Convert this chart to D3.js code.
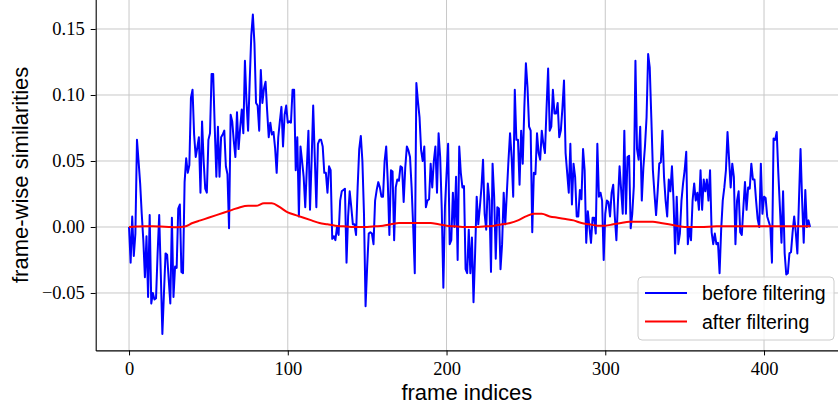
<!DOCTYPE html>
<html>
<head>
<meta charset="utf-8">
<script src="https://cdn.jsdelivr.net/npm/d3@7"></script>
<style>
  body { margin: 0; background: #fff; }
  .tick text { font-family: "Liberation Serif", serif; }
</style>
</head>
<body>
<svg id="chart"></svg>
<script>
// frame-wise similarities before / after filtering

// DATA
let blueValues = [
  0.000, -0.027, 0.008, -0.022, -0.005, 0.066, 0.050, 0.033, 0.010, -0.010,
  -0.038, -0.007, -0.053, 0.009, -0.058, -0.050, -0.055, -0.054, -0.020, 0.009,
  -0.035, -0.081, -0.050, -0.020, -0.021, -0.040, -0.058, 0.007, -0.053, -0.030,
  -0.031, 0.014, 0.017, -0.034, -0.035, 0.034, 0.052, 0.041, 0.047, 0.098,
  0.104, 0.070, 0.053, 0.060, 0.068, 0.026, 0.080, 0.050, 0.029, 0.026,
  0.066, 0.071, 0.116, 0.116, 0.075, 0.038, 0.076, 0.038, 0.068, 0.070,
  0.073, 0.046, 0.040, -0.001, 0.085, 0.080, 0.065, 0.053, 0.087, 0.059,
  0.075, 0.089, 0.071, 0.126, 0.095, 0.073, 0.110, 0.145, 0.161, 0.139,
  0.094, 0.092, 0.073, 0.119, 0.094, 0.105, 0.110, 0.088, 0.068, 0.079,
  0.070, 0.072, 0.060, 0.041, 0.068, 0.080, 0.091, 0.061, 0.085, 0.092,
  0.079, 0.080, 0.079, 0.104, 0.104, 0.043, 0.068, 0.008, 0.061, 0.050,
  0.038, 0.015, 0.045, 0.073, 0.013, 0.050, 0.092, 0.053, 0.015, 0.063,
  0.066, 0.066, 0.061, 0.041, 0.041, 0.026, 0.046, 0.043, -0.009, -0.007,
  -0.010, 0.000, -0.006, 0.020, 0.027, 0.028, 0.029, -0.027, 0.008, 0.027,
  0.015, 0.002, 0.002, -0.006, 0.030, 0.059, 0.069, 0.050, 0.010, -0.060,
  -0.030, -0.005, -0.004, -0.005, -0.013, 0.020, 0.028, 0.034, 0.030, 0.023,
  0.023, 0.050, 0.061, 0.034, -0.006, 0.043, 0.042, -0.010, 0.030, 0.036,
  0.035, 0.046, 0.045, 0.019, 0.045, 0.061, 0.058, 0.053, 0.030, 0.000,
  -0.035, 0.109, 0.095, 0.083, 0.058, 0.050, 0.061, 0.015, 0.020, 0.021,
  0.048, 0.030, 0.050, 0.061, 0.026, 0.071, 0.053, 0.013, -0.046, 0.015,
  0.040, 0.063, -0.013, -0.010, 0.026, 0.000, 0.038, -0.025, 0.061, 0.041,
  0.030, 0.031, -0.032, -0.035, -0.002, -0.035, -0.008, -0.057, -0.020, 0.023,
  0.002, 0.015, 0.030, 0.051, 0.010, -0.002, 0.033, 0.020, -0.034, 0.048,
  0.023, -0.024, 0.015, 0.014, -0.032, -0.013, 0.026, 0.002, 0.026, 0.050,
  0.071, 0.053, 0.023, 0.104, 0.066, 0.066, 0.032, 0.073, 0.048, 0.090,
  0.124, 0.106, 0.076, 0.073, -0.004, 0.041, 0.040, 0.071, 0.056, 0.051,
  0.073, 0.063, 0.056, 0.090, 0.120, 0.073, 0.076, 0.104, 0.086, 0.086,
  0.094, 0.068, 0.073, 0.090, 0.111, 0.056, 0.041, 0.026, 0.063, 0.017,
  0.048, 0.038, 0.008, 0.008, 0.028, 0.021, 0.059, 0.043, -0.012, 0.012,
  0.000, -0.012, 0.007, 0.007, -0.005, 0.063, 0.023, 0.026, 0.020, -0.025,
  0.010, 0.020, 0.019, 0.008, 0.026, 0.032, 0.008, -0.010, 0.020, 0.046,
  0.028, 0.010, 0.073, 0.010, 0.053, 0.054, -0.001, 0.010, 0.031, 0.126,
  0.059, 0.051, 0.076, 0.020, 0.045, 0.061, 0.083, 0.131, 0.121, 0.083,
  0.043, 0.025, 0.009, 0.027, 0.048, 0.049, 0.073, 0.038, 0.020, 0.008,
  0.036, 0.027, 0.046, 0.020, -0.020, 0.023, -0.013, -0.005, 0.020, 0.033,
  0.043, 0.057, -0.013, 0.000, -0.010, 0.020, 0.033, 0.020, 0.026, 0.013,
  0.043, 0.013, 0.036, 0.027, 0.036, 0.020, 0.043, -0.004, -0.013, -0.005,
  -0.013, -0.012, -0.035, -0.002, 0.020, 0.030, 0.043, 0.072, 0.051, 0.030,
  0.048, 0.038, -0.013, 0.020, 0.027, -0.004, -0.006, 0.015, 0.034, 0.013,
  0.030, 0.029, 0.048, 0.036, 0.036, 0.020, 0.006, 0.000, 0.048, 0.010,
  0.023, 0.022, 0.008, 0.004, 0.000, -0.027, 0.067, 0.066, 0.072, 0.041,
  0.015, -0.012, 0.027, -0.020, -0.036, -0.035, -0.020, -0.019, -0.004, 0.008,
  -0.004, -0.020, 0.020, 0.059, 0.020, -0.012, 0.028, 0.000, 0.005, 0.000
];

// filtered curve, read every 5 frames
let redFrames = [
  0, 5, 10, 15, 20, 25, 30, 35, 40, 45, 50, 55, 60, 65, 70, 75, 80, 85, 90, 95,
  100, 105, 110, 115, 120, 125, 130, 135, 140, 145, 150, 155, 160, 165, 170, 175,
  180, 185, 190, 195, 200, 205, 210, 215, 220, 225, 230, 235, 240, 245, 250, 255,
  260, 265, 270, 275, 280, 285, 290, 295, 300, 305, 310, 315, 320, 325, 330, 335,
  340, 345, 350, 360, 370, 380, 390, 400, 410, 420, 429
];
let redValues = [
  0.000, 0.0003, 0.0005, 0.0005, 0.0003, 0.000, -0.0002, 0.0003, 0.003, 0.005,
  0.007, 0.009, 0.011, 0.013, 0.015, 0.016, 0.016, 0.018, 0.018, 0.015,
  0.011, 0.009, 0.007, 0.005, 0.003, 0.002, 0.001, 0.0005, 0.000, 0.000,
  0.000, 0.0005, 0.001, 0.002, 0.003, 0.003, 0.003, 0.003, 0.003, 0.002,
  0.001, 0.0005, 0.000, 0.000, 0.000, 0.0005, 0.001, 0.002, 0.003, 0.005,
  0.008, 0.010, 0.010, 0.008, 0.007, 0.006, 0.005, 0.003, 0.002, 0.001,
  0.001, 0.002, 0.003, 0.004, 0.004, 0.004, 0.004, 0.003, 0.002, 0.001,
  0.000, 0.000, 0.0005, 0.0005, 0.0005, 0.0005, 0.0005, 0.0005, 0.0005
];

let xTicks = [0, 100, 200, 300, 400];
let yTicks = [-0.05, 0.00, 0.05, 0.10, 0.15];
let legendLabels = ["before filtering", "after filtering"];

// SETUP

let win = {w: 838, h: 409};
let plot = {left: 95.7, right: 843.4, top: -0.7, bottom: 350.4};

let svg = d3.select("#chart")
  .attr("width", win.w)
  .attr("height", win.h);

let x = d3.scaleLinear().domain([-21, 450]).range([plot.left, plot.right]);
let y = d3.scaleLinear().domain([-0.0935, 0.1725]).range([plot.bottom, plot.top]);

let blueColor = "#0000ff";
let redColor = "#ff0000";

// grid
svg.append("g")
  .selectAll("line.gx")
  .data(xTicks)
  .enter()
  .append("line")
  .attr("x1", d => x(d)).attr("x2", d => x(d))
  .attr("y1", plot.top).attr("y2", plot.bottom)
  .attr("stroke", "#c8c8c8").attr("stroke-width", 1);

svg.append("g")
  .selectAll("line.gy")
  .data(yTicks)
  .enter()
  .append("line")
  .attr("x1", plot.left).attr("x2", plot.right)
  .attr("y1", d => y(d)).attr("y2", d => y(d))
  .attr("stroke", "#c8c8c8").attr("stroke-width", 1);

// lines
let lineBlue = d3.line()
  .x((d, i) => x(i))
  .y(d => y(d));

svg.append("path")
  .datum(blueValues)
  .attr("d", lineBlue)
  .attr("fill", "none")
  .attr("stroke", blueColor)
  .attr("stroke-width", 2)
  .attr("stroke-linejoin", "round");

let lineRed = d3.line()
  .x((d, i) => x(redFrames[i]))
  .y(d => y(d))
  .curve(d3.curveMonotoneX);

svg.append("path")
  .datum(redValues)
  .attr("d", lineRed)
  .attr("fill", "none")
  .attr("stroke", redColor)
  .attr("stroke-width", 2);

// AXES
let fmt = d => d3.format(".2f")(d).replace("-", "\u2212");

let xAxis = svg.append("g")
  .attr("transform", `translate(0,${plot.bottom})`)
  .call(d3.axisBottom(x).tickValues(xTicks).tickSize(5).tickSizeOuter(0)
    .tickPadding(6).tickFormat(d3.format("d")));

let yAxis = svg.append("g")
  .attr("transform", `translate(${plot.left},0)`)
  .call(d3.axisLeft(y).tickValues(yTicks).tickSize(5).tickSizeOuter(0)
    .tickPadding(6).tickFormat(fmt));

[xAxis, yAxis].forEach(function(a) {
  a.select(".domain").attr("stroke", "#000").attr("stroke-width", 1.1);
  a.selectAll(".tick line").attr("stroke", "#000");
  a.selectAll(".tick text")
    .attr("font-size", 18.5)
    .attr("fill", "#000");
});
yAxis.selectAll(".tick text").attr("dy", "0.32em");

// axis labels
svg.append("text")
  .attr("x", (plot.left + 838) / 2)
  .attr("y", 400)
  .attr("text-anchor", "middle")
  .attr("font-family", "Liberation Sans, Arial, sans-serif")
  .attr("font-size", 22)
  .text("frame indices");

svg.append("text")
  .attr("transform", `translate(28,${(plot.top + plot.bottom) / 2}) rotate(-90)`)
  .attr("text-anchor", "middle")
  .attr("font-family", "Liberation Sans, Arial, sans-serif")
  .attr("font-size", 22)
  .text("frame-wise similarities");

// LEGEND
let legend = {x: 638, y: 277, w: 196, h: 63};
svg.append("rect")
  .attr("x", legend.x).attr("y", legend.y)
  .attr("width", legend.w).attr("height", legend.h)
  .attr("rx", 4)
  .attr("fill", "#fff").attr("fill-opacity", 0.8)
  .attr("stroke", "#cccccc");

let legendColors = [blueColor, redColor];
legendLabels.forEach(function(lab, i) {
  let ly = legend.y + 16 + i * 28.5;
  svg.append("line")
    .attr("x1", legend.x + 7).attr("x2", legend.x + 49)
    .attr("y1", ly).attr("y2", ly)
    .attr("stroke", legendColors[i]).attr("stroke-width", 2);
  svg.append("text")
    .attr("x", legend.x + 64)
    .attr("y", ly + 7)
    .attr("font-family", "Liberation Sans, Arial, sans-serif")
    .attr("font-size", 19.5)
    .text(lab);
});
</script>
</body>
</html>
